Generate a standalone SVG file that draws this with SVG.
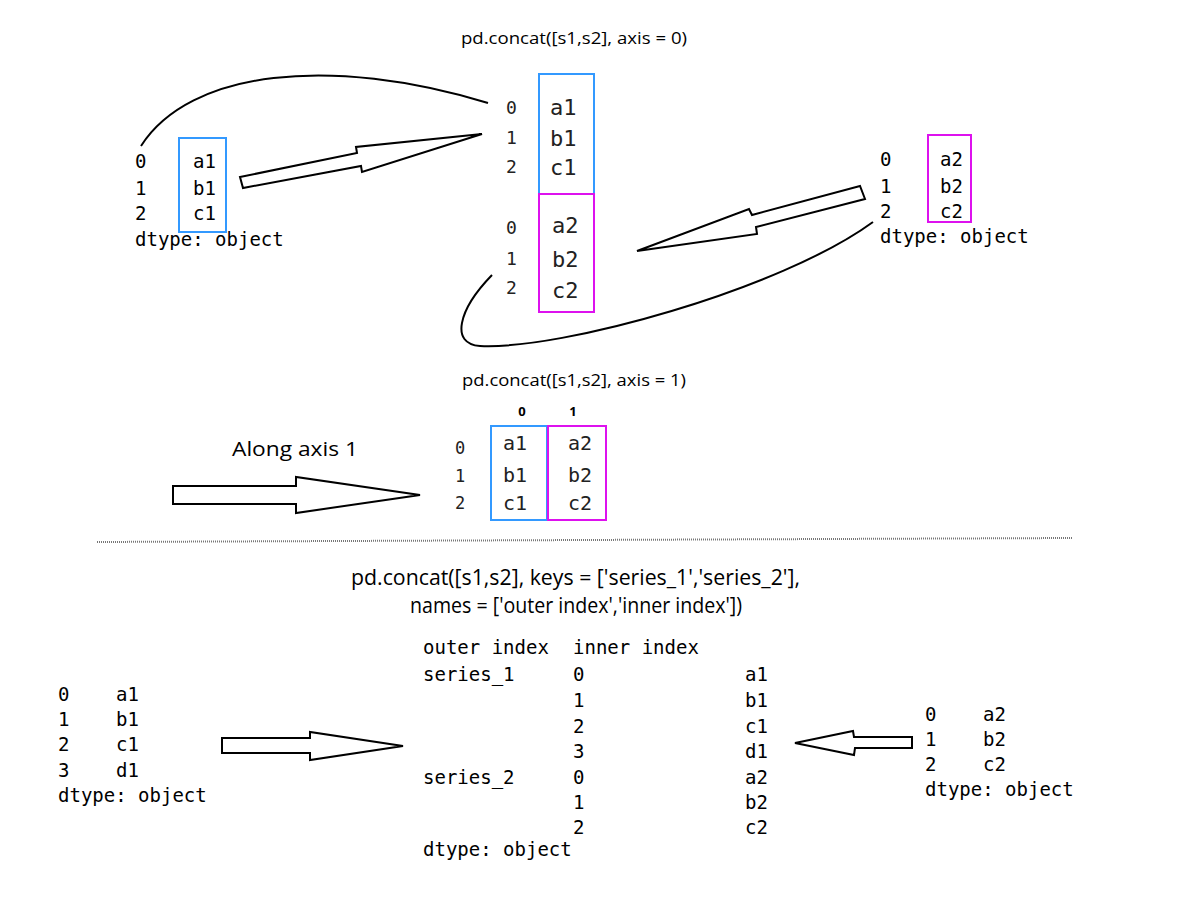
<svg xmlns="http://www.w3.org/2000/svg" width="1200" height="900" viewBox="0 0 1200 900">
<style>
.sans{font-family:"Open Sans",Lato,"Liberation Sans",sans-serif;fill:#000}
.mono{font-family:"DejaVu Sans Mono","Liberation Mono",monospace;font-size:19px;fill:#000}
.big{font-family:"DejaVu Sans Mono","Liberation Mono",monospace;font-size:22px;fill:#222}
.idx{font-family:"DejaVu Sans Mono","Liberation Mono",monospace;font-size:18px;fill:#222}
.mid{font-family:"DejaVu Sans Mono","Liberation Mono",monospace;font-size:20px;fill:#222}
.idx2{font-family:"DejaVu Sans Mono","Liberation Mono",monospace;font-size:17px;fill:#222}
.bluebox{fill:none;stroke:#3399FF;stroke-width:2}
.magbox{fill:none;stroke:#DD11EE;stroke-width:2}
.barrow{fill:#fff;stroke:#000;stroke-width:2;stroke-linejoin:miter}
.curve{fill:none;stroke:#000;stroke-width:2}
</style>
<rect width="1200" height="900" fill="#fff"/>

<g id="title-axis0">
<text class="sans" x="461" y="44" font-size="15.5" textLength="226" lengthAdjust="spacingAndGlyphs">pd.concat([s1,s2], axis = 0)</text>
</g>

<g id="s1-top">
<rect class="bluebox" x="179" y="138" width="47" height="94"/>
<text class="mono" x="135" y="168">0</text><text class="mono" x="193" y="168">a1</text>
<text class="mono" x="135" y="195">1</text><text class="mono" x="193" y="195">b1</text>
<text class="mono" x="135" y="220">2</text><text class="mono" x="193" y="220">c1</text>
<text class="mono" x="135" y="246">dtype: object</text>
</g>

<g id="result-axis0">
<rect class="bluebox" x="539" y="74" width="55" height="120"/>
<rect class="magbox" x="539" y="194" width="55" height="118"/>
<text class="idx" x="506" y="114">0</text><text class="big" x="550" y="115">a1</text>
<text class="idx" x="506" y="144">1</text><text class="big" x="550" y="146">b1</text>
<text class="idx" x="506" y="173">2</text><text class="big" x="550" y="175">c1</text>
<text class="idx" x="506" y="234">0</text><text class="big" x="552" y="233">a2</text>
<text class="idx" x="506" y="265">1</text><text class="big" x="552" y="267">b2</text>
<text class="idx" x="506" y="294">2</text><text class="big" x="552" y="298">c2</text>
</g>

<g id="s2-top">
<rect class="magbox" x="928" y="135" width="43" height="87"/>
<text class="mono" x="880" y="166">0</text><text class="mono" x="940" y="166">a2</text>
<text class="mono" x="880" y="193">1</text><text class="mono" x="940" y="193">b2</text>
<text class="mono" x="880" y="218">2</text><text class="mono" x="940" y="218">c2</text>
<text class="mono" x="880" y="243">dtype: object</text>
</g>

<g id="title-axis1">
<text class="sans" x="462" y="386" font-size="15.5" textLength="224" lengthAdjust="spacingAndGlyphs">pd.concat([s1,s2], axis = 1)</text>
</g>

<g id="label-along">
<text class="sans" x="232" y="456" font-size="20" textLength="126" lengthAdjust="spacingAndGlyphs">Along axis 1</text>
</g>

<g id="result-axis1">
<text class="sans" x="522" y="416" font-size="13" font-weight="bold" text-anchor="middle">0</text>
<text class="sans" x="573" y="416" font-size="13" font-weight="bold" text-anchor="middle">1</text>
<rect class="bluebox" x="491" y="426" width="56" height="94"/>
<rect class="magbox" x="548" y="426" width="58" height="94"/>
<text class="idx2" x="455" y="454">0</text><text class="mid" x="503" y="450">a1</text><text class="mid" x="568" y="450">a2</text>
<text class="idx2" x="455" y="482">1</text><text class="mid" x="503" y="482">b1</text><text class="mid" x="568" y="482">b2</text>
<text class="idx2" x="455" y="509">2</text><text class="mid" x="503" y="510">c1</text><text class="mid" x="568" y="510">c2</text>
</g>

<g id="divider">
<line x1="97" y1="542" x2="1072" y2="538" stroke="#777" stroke-width="2" stroke-dasharray="1,1"/>
</g>

<g id="title-keys">
<text class="sans" x="351" y="585" font-size="21.5" textLength="449" lengthAdjust="spacingAndGlyphs">pd.concat([s1,s2], keys = ['series_1','series_2'],</text>
<text class="sans" x="410" y="613" font-size="21.5" textLength="332" lengthAdjust="spacingAndGlyphs">names = ['outer index','inner index'])</text>
</g>

<g id="s1-bottom">
<text class="mono" x="58" y="701">0</text><text class="mono" x="116" y="701">a1</text>
<text class="mono" x="58" y="726">1</text><text class="mono" x="116" y="726">b1</text>
<text class="mono" x="58" y="751">2</text><text class="mono" x="116" y="751">c1</text>
<text class="mono" x="58" y="777">3</text><text class="mono" x="116" y="777">d1</text>
<text class="mono" x="58" y="802">dtype: object</text>
</g>

<g id="result-keys">
<text class="mono" x="423" y="654">outer index</text><text class="mono" x="573" y="654">inner index</text>
<text class="mono" x="423" y="681">series_1</text><text class="mono" x="573" y="681">0</text><text class="mono" x="745" y="681">a1</text>
<text class="mono" x="573" y="707">1</text><text class="mono" x="745" y="707">b1</text>
<text class="mono" x="573" y="733">2</text><text class="mono" x="745" y="733">c1</text>
<text class="mono" x="573" y="758">3</text><text class="mono" x="745" y="758">d1</text>
<text class="mono" x="423" y="784">series_2</text><text class="mono" x="573" y="784">0</text><text class="mono" x="745" y="784">a2</text>
<text class="mono" x="573" y="809">1</text><text class="mono" x="745" y="809">b2</text>
<text class="mono" x="573" y="834">2</text><text class="mono" x="745" y="834">c2</text>
<text class="mono" x="423" y="856">dtype: object</text>
</g>

<g id="s2-bottom">
<text class="mono" x="925" y="721">0</text><text class="mono" x="983" y="721">a2</text>
<text class="mono" x="925" y="746">1</text><text class="mono" x="983" y="746">b2</text>
<text class="mono" x="925" y="771">2</text><text class="mono" x="983" y="771">c2</text>
<text class="mono" x="925" y="796">dtype: object</text>
</g>

<g id="connectors">
<path class="curve" d="M141 146 C190 70 330 55 488 103"/>
<path class="curve" d="M873 222 C780 290 560 350 480 346 C450 344 458 310 492 275"/>
<polygon class="barrow" points="240,177 357,153 356,147 482,134 362,172 361,166 243,188"/>
<polygon class="barrow" points="860,186 752,215 749,209 637,251 757,234 756,227 865,199"/>
<polygon class="barrow" points="173,486 296,486 296,477 420,495 296,513 296,504 173,504"/>
<polygon class="barrow" points="222,738 310,738 310,732 403,746 310,760 310,753 222,753"/>
<polygon class="barrow" points="912,737 854,737 853,731 795,743 854,755 855,748 912,748"/>
</g>
</svg>
